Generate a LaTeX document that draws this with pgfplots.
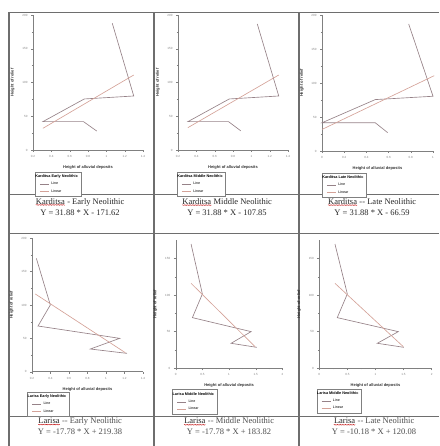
\documentclass[border=0pt]{standalone}
\usepackage{pgfplots}
\pgfplotsset{compat=1.18}
\usepackage{fontspec}
\usetikzlibrary{decorations.pathmorphing}
\setmainfont{Liberation Sans}
\newfontfamily\capfont{Liberation Serif}
\definecolor{lineC}{RGB}{150,130,136}
\definecolor{fitC}{RGB}{212,162,152}
\definecolor{frameC}{RGB}{110,110,110}

% red spell-check squiggle under place names
\newcommand\spell[1]{\tikz[baseline=(w.base)]{\node[inner sep=0pt](w){#1};
  \draw[red!75!black, line width=0.3pt, decorate, decoration={snake, amplitude=0.4pt, segment length=1.6pt}]
  ([yshift=-0.6pt]w.south west) -- ([yshift=-0.6pt]w.south east);}}
\newcommand\ltitle[1]{\hspace*{-16pt}{\bfseries\fontsize{3.8}{4}\selectfont #1}}

\pgfplotsset{
  panel/.style={
    scale only axis,
    axis lines*=left,
    axis line style={gray, line width=0.4pt},
    tick style={gray, line width=0.3pt},
    major tick length=2pt, minor tick length=1.2pt,
    tick align=outside,
    ticklabel style={font=\fontsize{3}{3.5}\selectfont, text=gray},
    /pgf/number format/assume math mode=true,
    xlabel={Height of alluvial deposits},
    ylabel={Height of relief},
    label style={font=\fontsize{4}{4.5}\selectfont\bfseries, text=black!80},
    xlabel style={yshift=-1pt},
    ylabel style={yshift=1pt},
    minor y tick num=1,
    clip=false,
    legend cell align=left,
    legend style={anchor=north west, draw=gray, line width=0.3pt, fill=white,
      font=\fontsize{3.6}{4}\selectfont, inner sep=0.8pt, row sep=-0.9pt,
      /tikz/every even column/.append style={column sep=1.5pt}},
    legend image code/.code={\draw[#1] (4pt,0pt) -- (13pt,0pt);},
  },
  lineS/.style={lineC, line width=0.65pt, mark=none},
  fitS/.style={fitC, line width=0.65pt, mark=none},
  kard/.style={xmin=0.2, xmax=1.4, xtick={0.2,0.4,...,1.41},
    xticklabel style={/pgf/number format/.cd, fixed, precision=1},
    ymin=0, ymax=200, ytick={0,50,...,200}},
  lar/.style={xmin=0, xmax=2, xtick={0,0.5,...,2}, minor x tick num=1,
    ymin=0, ymax=175, ytick={0,50,100,150}},
}

\begin{document}
\begin{tikzpicture}
\path[use as bounding box] (0pt,0pt) rectangle (439pt,446pt);

% table frame
\begin{scope}[frameC, line width=1.1pt]
\draw (9pt,433.5pt) -- (439pt,433.5pt);
\draw (9pt,251.7pt) -- (439pt,251.7pt);
\draw (9pt,212.7pt) -- (439pt,212.7pt);
\draw (9pt,29.3pt) -- (439pt,29.3pt);
\foreach \xx in {9,154,299} \draw (\xx pt,0pt) -- (\xx pt,433.5pt);
\end{scope}

% ---------- Karditsa Early
\begin{axis}[panel, kard, at={(33pt,296pt)}, anchor=south west, width=110pt, height=135pt,
  legend style={at={(axis description cs:0.018,-0.163)}}]
\addlegendimage{empty legend}\addlegendentry{\ltitle{Karditsa Early Neolithic}}
\addplot[lineS] coordinates {(1.065,187.7)(1.299,80)(0.759,75.6)(0.308,42)(0.751,42)(0.895,28.1)};
\addlegendentry{Line}
\addplot[fitS] coordinates {(0.308,32.1)(1.299,111.1)};
\addlegendentry{Linear}
\end{axis}

% ---------- Karditsa Middle
\begin{axis}[panel, kard, at={(178pt,296pt)}, anchor=south west, width=110pt, height=135pt,
  legend style={at={(axis description cs:-0.009,-0.163)}}]
\addlegendimage{empty legend}\addlegendentry{\ltitle{Karditsa Middle Neolithic}}
\addplot[lineS] coordinates {(1.065,186.7)(1.299,80)(0.759,75.6)(0.308,42)(0.751,42)(0.884,28.5)};
\addlegendentry{Line}
\addplot[fitS] coordinates {(0.308,33.1)(1.299,111.1)};
\addlegendentry{Linear}
\end{axis}

% ---------- Karditsa Late
\begin{axis}[panel, at={(322pt,295pt)}, anchor=south west, width=111pt, height=136pt,
  xmin=0, xmax=1, xtick={0,0.2,...,1.01}, ymin=0, ymax=200, ytick={0,50,...,200},
  legend style={at={(axis description cs:0,-0.162)}}]
\addlegendimage{empty legend}\addlegendentry{\ltitle{Karditsa Late Neolithic}}
\addplot[lineS] coordinates {(0.781,186.8)(1.0,80.5)(0.48,75.6)(0.0,41.5)(0.48,41.5)(0.592,26.9)};
\addlegendentry{Line}
\addplot[fitS] coordinates {(0.0,31.7)(1.01,110.7)};
\addlegendentry{Linear}
\end{axis}

% ---------- Larisa Early
\begin{axis}[panel, kard, at={(32pt,74.3pt)}, anchor=south west, width=111pt, height=133.4pt,
  legend style={at={(axis description cs:-0.042,-0.152)}}]
\addlegendimage{empty legend}\addlegendentry{\ltitle{Larisa Early Neolithic}}
\addplot[lineS] coordinates {(0.247,170)(0.398,100)(0.265,68.5)(1.148,50)(0.831,34)(1.227,27.5)};
\addlegendentry{Line}
\addplot[fitS] coordinates {(0.236,116.5)(1.209,28.5)};
\addlegendentry{Linear}
\end{axis}

% ---------- Larisa Middle
\begin{axis}[panel, lar, at={(175.7pt,77.7pt)}, anchor=south west, width=106.7pt, height=128.3pt,
  legend style={at={(axis description cs:-0.031,-0.165)}}]
\addlegendimage{empty legend}\addlegendentry{\ltitle{Larisa Middle Neolithic}}
\addplot[lineS] coordinates {(0.288,169.5)(0.5,101.4)(0.313,69.1)(1.413,50)(1.038,34.1)(1.519,28.6)};
\addlegendentry{Line}
\addplot[fitS] coordinates {(0.288,115.9)(1.488,29.5)};
\addlegendentry{Linear}
\end{axis}

% ---------- Larisa Late
\begin{axis}[panel, lar, at={(319.3pt,77.7pt)}, anchor=south west, width=112.3pt, height=128.3pt,
  legend style={at={(axis description cs:-0.023,-0.16)}}]
\addlegendimage{empty legend}\addlegendentry{\ltitle{Larisa Middle Neolithic}}
\addplot[lineS] coordinates {(0.279,169.5)(0.499,101.4)(0.32,69.1)(1.407,50)(1.033,34.1)(1.507,28.6)};
\addlegendentry{Line}
\addplot[fitS] coordinates {(0.279,115.9)(1.496,29.5)};
\addlegendentry{Linear}
\end{axis}

% captions
\begin{scope}[every node/.style={font=\capfont\fontsize{8.5}{9}\selectfont, text=black!85, inner sep=0pt}]
\node at (80pt,244pt) {\spell{Karditsa} - Early Neolithic};
\node at (80pt,233pt) {Y = 31.88 * X - 171.62};
\node at (227pt,244pt) {\spell{Karditsa} Middle Neolithic};
\node at (227pt,233pt) {Y = 31.88 * X - 107.85};
\node at (372pt,244pt) {\spell{Karditsa} -- Late Neolithic};
\node at (372pt,233pt) {Y = 31.88 * X - 66.59};
\node[text=black!70] at (80pt,24.3pt) {\spell{Larisa} -- Early Neolithic};
\node[text=black!70] at (80pt,14.3pt) {Y = -17.78 * X + 219.38};
\node[text=black!70] at (229pt,24.3pt) {\spell{Larisa} -- Middle Neolithic};
\node[text=black!70] at (229pt,14.3pt) {Y = -17.78 * X + 183.82};
\node[text=black!70] at (374pt,24.3pt) {\spell{Larisa} -- Late Neolithic};
\node[text=black!70] at (374pt,14.3pt) {Y = -10.18 * X + 120.08};
\end{scope}
\end{tikzpicture}
\end{document}
